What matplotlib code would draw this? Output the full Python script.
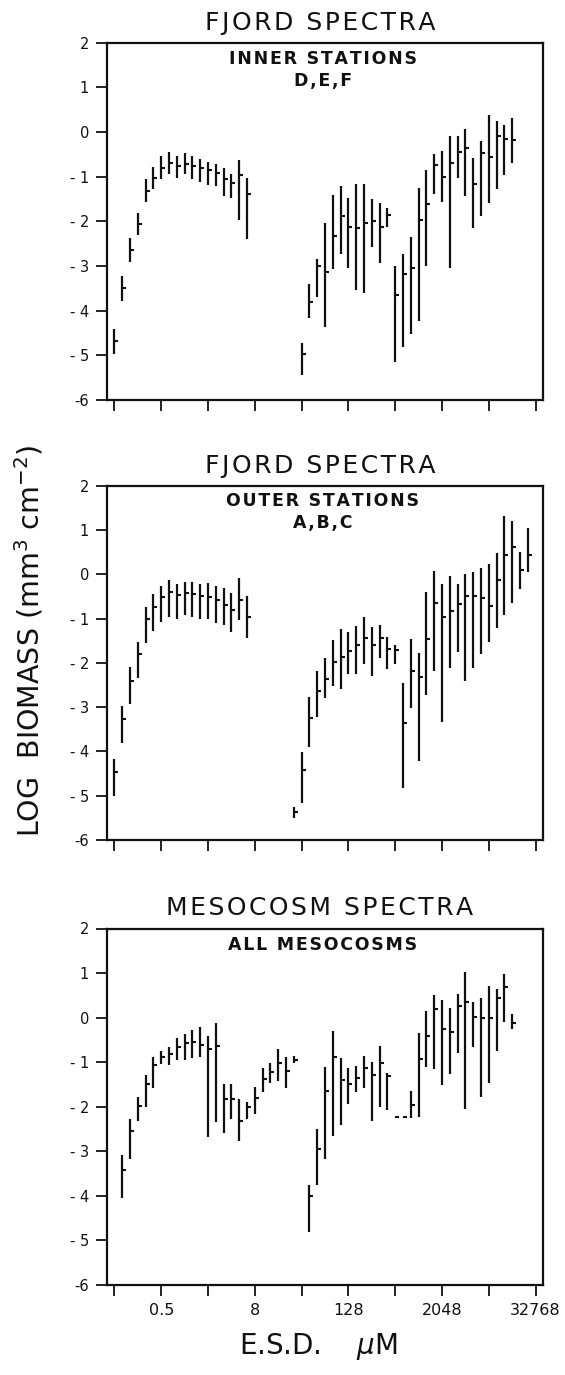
import matplotlib
matplotlib.use('Agg')
import matplotlib.pyplot as plt
import numpy as np

plt.rcParams['font.family'] = ['DejaVu Sans']
plt.rcParams['mathtext.fontset'] = 'dejavusans'

# size-class index k -> ESD (um) = 0.125 * 2**(k/3)  (volume doubling classes)
inner_k = [0, 1, 2, 3, 4, 5, 6, 7, 8, 9, 10, 11, 12, 13, 14, 15, 16, 17,
           24, 25, 26, 27, 28, 29, 30, 31, 32, 33, 34, 35,
           36, 37, 38, 39, 40, 41, 42, 43, 44, 45, 46, 47, 48, 49, 50, 51]
inner_lo = [-4.96, -3.78, -2.90, -2.30, -1.57, -1.28, -1.05, -0.94, -1.02, -0.95, -1.05, -1.12, -1.19, -1.20, -1.43, -1.48, -1.96, -2.39,
            -5.44, -4.16, -3.70, -4.36, -3.07, -2.74, -3.04, -3.54, -3.61, -2.58, -2.93, -2.13,
            -5.15, -4.81, -4.52, -4.24, -3.00, -1.39, -1.56, -3.04, -1.04, -1.44, -2.15, -1.87, -1.59, -1.28, -0.96, -0.70]
inner_mean = [-4.68, -3.50, -2.65, -2.05, -1.32, -1.02, -0.81, -0.69, -0.76, -0.71, -0.76, -0.81, -0.85, -0.92, -1.05, -1.15, -0.96, -1.39,
              -4.96, -3.81, -3.01, -3.13, -2.32, -1.87, -2.13, -2.15, -2.04, -1.99, -2.13, -1.85,
              -3.65, -3.17, -3.04, -1.98, -1.61, -0.73, -1.00, -0.69, -0.44, -0.36, -1.16, -0.48, -0.56, -0.10, -0.15, -0.17]
inner_hi = [-4.42, -3.22, -2.37, -1.81, -1.05, -0.79, -0.53, -0.44, -0.53, -0.46, -0.54, -0.61, -0.68, -0.71, -0.81, -0.93, -0.63, -1.02,
            -4.73, -3.41, -2.85, -2.04, -1.41, -1.21, -1.48, -1.16, -1.17, -1.50, -1.59, -1.69,
            -3.01, -2.74, -2.36, -1.26, -0.85, -0.50, -0.43, -0.10, -0.10, 0.07, -0.59, -0.19, 0.39, 0.24, 0.15, 0.31]

outer_k = [0, 1, 2, 3, 4, 5, 6, 7, 8, 9, 10, 11, 12, 13, 14, 15, 16, 17,
           23, 24, 25, 26, 27, 28, 29, 30, 31, 32, 33, 34, 35, 36,
           37, 38, 39, 40, 41, 42, 43, 44, 45, 46, 47, 48, 49, 50, 51, 52, 53]
outer_lo = [-5.01, -3.82, -2.93, -2.35, -1.56, -1.27, -1.07, -0.96, -1.01, -0.92, -0.96, -1.01, -1.01, -1.09, -1.14, -1.31, -1.03, -1.43,
            -5.51, -5.17, -3.89, -3.22, -2.80, -2.52, -2.59, -2.26, -2.26, -2.03, -2.30, -1.90, -2.14, -2.03,
            -4.83, -3.03, -4.22, -2.73, -2.18, -3.33, -2.12, -1.76, -2.42, -2.11, -1.80, -1.52, -1.22, -0.92, -0.64, -0.34, 0.05]
outer_mean = [-4.46, -3.27, -2.40, -1.80, -1.02, -0.75, -0.52, -0.39, -0.47, -0.43, -0.45, -0.50, -0.52, -0.59, -0.69, -0.81, -0.58, -0.97,
              -5.36, -4.42, -3.25, -2.63, -2.37, -1.97, -1.86, -1.73, -1.60, -1.45, -1.60, -1.45, -1.69, -1.71,
              -3.35, -2.18, -2.31, -1.46, -0.64, -0.96, -0.84, -0.68, -0.49, -0.49, -0.53, -0.71, -0.13, 0.44, 0.61, 0.10, 0.44]
outer_hi = [-4.16, -2.97, -2.10, -1.52, -0.73, -0.45, -0.26, -0.14, -0.23, -0.17, -0.17, -0.23, -0.20, -0.26, -0.30, -0.43, -0.09, -0.49,
            -5.25, -4.01, -2.76, -2.18, -1.90, -1.48, -1.24, -1.30, -1.17, -0.97, -1.20, -1.14, -1.41, -1.60,
            -2.45, -1.47, -1.77, -0.41, 0.08, -0.23, -0.04, -0.23, 0.01, 0.05, 0.15, 0.23, 0.49, 1.32, 1.21, 0.50, 1.05]

meso_k = [1, 2, 3, 4, 5, 6, 7, 8, 9, 10, 11, 12, 13, 14, 15, 16, 17, 18, 19, 20, 21, 22, 23,
          25, 26, 27, 28, 29, 30, 31, 32, 33, 34, 35,
          36, 37, 38, 39, 40, 41, 42, 43, 44, 45, 46, 47, 48, 49, 50, 51]
meso_lo = [-4.05, -3.17, -2.31, -2.01, -1.59, -1.03, -1.06, -0.96, -0.96, -0.90, -0.88, -2.69, -2.34, -2.60, -2.27, -2.77, -2.27, -2.16, -1.67, -1.46, -1.42, -1.58, -1.01,
           -4.80, -3.75, -3.18, -2.66, -2.40, -1.93, -1.68, -1.59, -2.32, -2.01, -2.08,
           -2.23, -2.23, -2.25, -2.22, -1.11, -1.15, -1.52, -1.27, -0.79, -2.04, -0.66, -1.78, -1.46, -0.76, -0.10, -0.25]
meso_mean = [-3.41, -2.55, -1.98, -1.50, -1.07, -0.88, -0.81, -0.66, -0.56, -0.55, -0.61, -0.70, -0.64, -1.83, -1.82, -2.33, -2.01, -1.80, -1.38, -1.21, -1.01, -1.20, -0.94,
             -4.00, -2.94, -1.65, -0.88, -1.39, -1.48, -1.35, -1.13, -1.29, -1.02, -1.32,
             -2.23, -2.23, -1.97, -0.92, -0.42, 0.20, -0.26, -0.33, 0.26, 0.35, 0.01, 0.00, 0.00, 0.44, 0.69, -0.11]
meso_hi = [-3.09, -2.27, -1.78, -1.29, -0.89, -0.75, -0.66, -0.45, -0.36, -0.27, -0.21, -0.42, -0.11, -1.50, -1.48, -1.82, -1.89, -1.56, -1.13, -1.01, -0.71, -0.88, -0.86,
           -3.75, -2.51, -1.11, -0.30, -0.90, -1.13, -1.09, -0.86, -1.00, -0.64, -1.24,
           -2.23, -2.23, -1.65, -0.34, 0.14, 0.50, 0.39, 0.22, 0.53, 1.03, 0.35, 0.43, 0.71, 0.65, 0.97, 0.09]

ytick_vals = [-6, -5, -4, -3, -2, -1, 0, 1, 2]
ytick_labels = ['-6', '- 5', '- 4', '- 3', '- 2', '- 1', '0', '1', '2']
xtick_vals = [0.125, 0.5, 2, 8, 32, 128, 512, 2048, 8192, 32768]
xtick_labels = ['', '0.5', '', '8', '', '128', '', '2048', '', '32768']

W, H = 565, 1375
INK = '#111111'
fig = plt.figure(figsize=(W / 100, H / 100), dpi=100)


def px_rect(left, top, right, bottom):
    return [left / W, 1 - bottom / H, (right - left) / W, (bottom - top) / H]


def tracked(s, sp='\u200a'):
    return sp.join(s)


panels = [
    (inner_k, inner_lo, inner_mean, inner_hi, px_rect(107, 42.7, 543, 400),
     'FJORD SPECTRA', 23, ['INNER STATIONS', 'D,E,F'], [59, 81]),
    (outer_k, outer_lo, outer_mean, outer_hi, px_rect(107, 485.7, 543, 840),
     'FJORD SPECTRA', 466, ['OUTER STATIONS', 'A,B,C'], [501, 523]),
    (meso_k, meso_lo, meso_mean, meso_hi, px_rect(107, 928.5, 543, 1285),
     'MESOCOSM SPECTRA', 908, ['ALL MESOCOSMS'], [945]),
]

for i, (k, lo, mean, hi, rect, title, ty, subs, sys_) in enumerate(panels):
    ax = fig.add_axes(rect)
    esd = 0.125 * 2.0 ** (np.asarray(k) / 3.0)
    ax.set_xscale('log', base=2)
    ax.vlines(esd, lo, hi, colors=INK, linewidth=1.6)
    ax.hlines(mean, esd, esd * 2 ** 0.17, colors=INK, linewidth=1.5)
    ax.set_xlim(2 ** -3.32, 2 ** 15.32)
    ax.set_ylim(-6, 2)
    ax.set_yticks(ytick_vals)
    ax.set_yticklabels(ytick_labels, fontsize=10.5)
    ax.set_xticks(xtick_vals)
    ax.minorticks_off()
    if i == 2:
        ax.set_xticklabels(xtick_labels, fontsize=11.5)
    else:
        ax.set_xticklabels([''] * len(xtick_vals))
    ax.tick_params(direction='out', length=8, width=1.3, color=INK, pad=5,
                   labelcolor=INK)
    for s in ax.spines.values():
        s.set_linewidth(1.6)
        s.set_color(INK)
    fig.text(320 / W, 1 - ty / H, tracked(title), ha='center', va='center',
             fontsize=18, color=INK)
    for s_txt, s_y in zip(subs, sys_):
        fig.text(323 / W, 1 - s_y / H, tracked(s_txt), ha='center', va='center',
                 fontsize=12.5, fontweight='bold', color=INK)

fig.text(29 / W, 1 - 641 / H, 'LOG  BIOMASS (mm$^3$ cm$^{-2}$)', rotation=90,
         ha='center', va='center', fontsize=20.5, color=INK)
fig.text(318 / W, 1 - 1346 / H, 'E.S.D.    $\\mu$M', ha='center', va='center',
         fontsize=20, color=INK)

fig.savefig('out.png', dpi=100, facecolor='white')
